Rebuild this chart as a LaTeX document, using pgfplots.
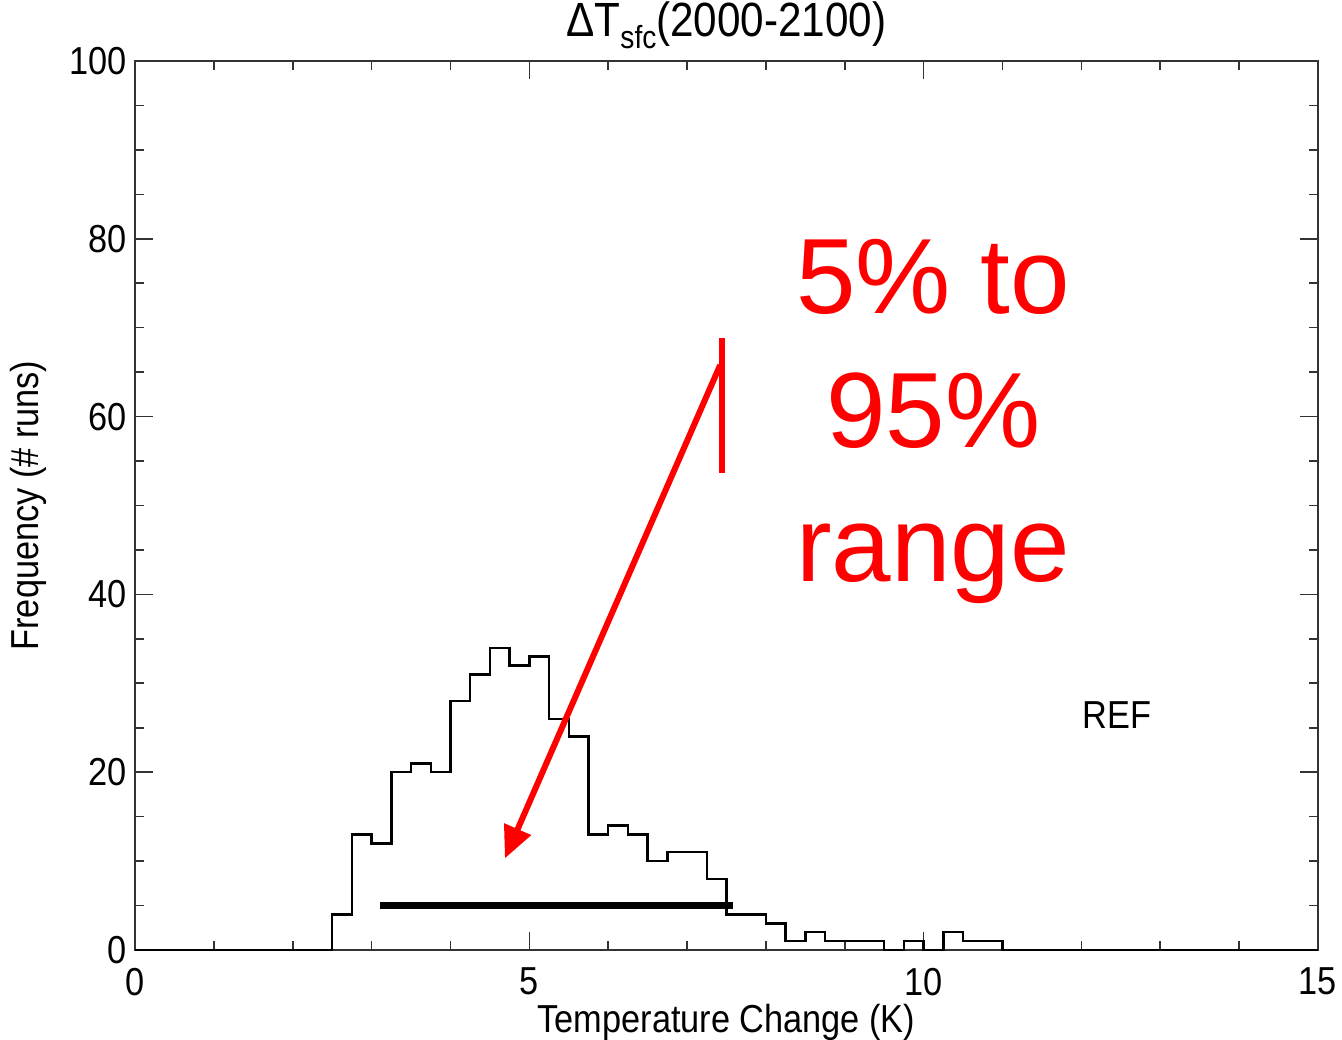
\documentclass[border=0pt]{standalone}
\usepackage{pgfplots}
\pgfplotsset{compat=1.18}
\usepackage{fontspec}
\setmainfont{Liberation Sans}
\newfontfamily\chartfont[FakeStretch=0.88]{Liberation Sans}
\usetikzlibrary{arrows.meta}

\begin{document}
\begin{tikzpicture}
\begin{axis}[
    scale only axis,
    width=295.75pt, height=222.25pt,
    xmin=0, xmax=15, ymin=0, ymax=100,
    clip=false,
    xtick={0,5,10,15},
    ytick={0,20,40,60,80,100},
    minor x tick num=4,
    minor y tick num=3,
    tick align=inside,
    major tick length=4.5pt,
    minor tick length=2.25pt,
    axis line style={line width=0.6pt, black!80},
    every tick/.style={black!80, line width=0.4pt},
    /pgf/number format/assume math mode=true,
    tick label style={font=\chartfont\fontsize{9.75}{11}\selectfont},
    xticklabel style={yshift=-1pt},
    yticklabel style={xshift=1.5pt},
    label style={font=\chartfont\fontsize{9.75}{11}\selectfont},
    xlabel={Temperature Change (K)},
    ylabel={Frequency (\# runs)},
    xlabel style={at={(axis description cs:0.5,-0.081)}, anchor=center},
    ylabel style={at={(axis description cs:-0.0904,0.5)}, anchor=center},
]

% histogram of runs, bin width 0.25 K
\addplot[const plot, black, line width=0.6pt] coordinates {
    (0,0) (2.5,4) (2.75,13) (3.0,12) (3.25,20) (3.5,21) (3.75,20)
    (4.0,28) (4.25,31) (4.5,34) (4.75,32) (5.0,33) (5.25,26) (5.5,24)
    (5.75,13) (6.0,14) (6.25,13) (6.5,10) (6.75,11) (7.0,11) (7.25,8)
    (7.5,4) (7.75,4) (8.0,3) (8.25,1) (8.5,2) (8.75,1) (9.0,1) (9.25,1)
    (9.5,0) (9.75,1) (10.0,0) (10.25,2) (10.5,1) (10.75,1) (11.0,0) (15,0)
};

% 5-95% range bar
\addplot[black, line width=1.6pt] coordinates {(3.11,5) (7.58,5)};

% red annotation
\addplot[red, line width=1.5pt] coordinates {(7.44,53.7) (7.44,68.8)};
\addplot[red, line width=1.5pt, -{Triangle[length=8pt,width=7pt]}]
    coordinates {(7.42,65.8) (4.69,10.3)};

% title
\node[anchor=center, font=\chartfont\fontsize{12}{14}\selectfont]
    at (axis description cs:0.5,1.04)
    {ΔT\raisebox{-0.45ex}{\fontsize{8}{9}\selectfont sfc}(2000-2100)};

\node[anchor=center, font=\chartfont\fontsize{9.75}{11}\selectfont]
    at (axis cs:12.45,26.4) {REF};

\node[text=red, anchor=base, font=\fontsize{26.75}{30}\selectfont]
    at (axis cs:10.12,71.65) {5\% to};
\node[text=red, anchor=base, font=\fontsize{26.75}{30}\selectfont]
    at (axis cs:10.12,56.47) {95\%};
\node[text=red, anchor=base, font=\fontsize{26.75}{30}\selectfont]
    at (axis cs:10.12,41.4) {range};
\end{axis}
\pgfresetboundingbox
\useasboundingbox (-33.75pt,-22.5pt) rectangle (301.75pt,237.5pt);
\end{tikzpicture}
\end{document}
